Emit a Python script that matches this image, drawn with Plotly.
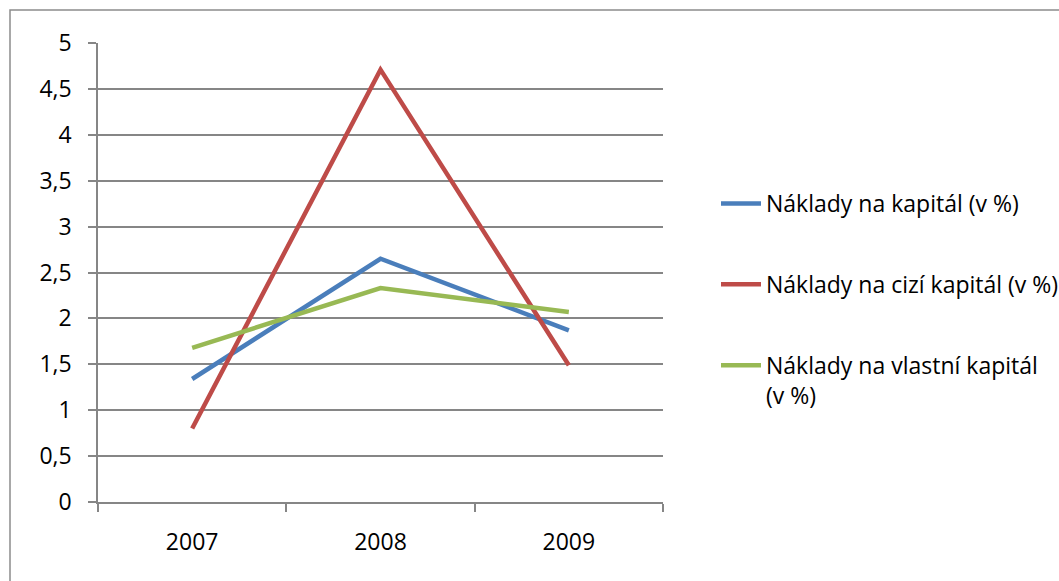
import plotly.graph_objects as go

years = ["2007", "2008", "2009"]
naklady_kapital = [1.34, 2.65, 1.87]
naklady_cizi = [0.80, 4.71, 1.49]
naklady_vlastni = [1.68, 2.33, 2.07]

series_names = [
    "Náklady na kapitál (v %)",
    "Náklady na cizí kapitál (v %)",
    "Náklady na vlastní kapitál<br>(v %)",
]
series_values = [naklady_kapital, naklady_cizi, naklady_vlastni]
series_colors = ["#4A7EBB", "#BE4B48", "#98B954"]

FONT = "Open Sans"
FS = 23
GRID = "#868686"

fig = go.Figure()
for i, (name, vals, col) in enumerate(zip(series_names, series_values, series_colors)):
    fig.add_trace(go.Scatter(
        x=years, y=vals, mode="lines", name=name,
        line=dict(color=col, width=4.5),
        legendgroup=f"g{i}",
    ))

W, H = 1059, 581
ml, mr, mt, mb = 98, 396, 43, 79

fig.update_layout(
    width=W, height=H,
    margin=dict(l=ml, r=mr, t=mt, b=mb, autoexpand=False),
    paper_bgcolor="white", plot_bgcolor="white",
    font=dict(family=FONT, size=FS, color="#000000"),
    showlegend=True,
    legend=dict(
        xref="container", yref="container",
        x=716 / W, y=1 - 182 / H, xanchor="left", yanchor="top",
        font=dict(family=FONT, size=FS),
        tracegroupgap=48, itemwidth=40, valign="top",
        bgcolor="rgba(0,0,0,0)",
    ),
    xaxis=dict(
        type="category", range=[-0.5, 2.5],
        tickson="boundaries", ticks="outside", ticklen=8, tickcolor=GRID, tickwidth=1.5,
        showline=True, linecolor=GRID, linewidth=1.5,
        showgrid=False, ticklabelstandoff=19,
        tickfont=dict(family=FONT, size=FS),
    ),
    yaxis=dict(
        range=[0, 5], dtick=0.5, tickformat=".1~f",
        ticks="outside", ticklen=8, tickcolor=GRID, tickwidth=1.5,
        showline=True, linecolor=GRID, linewidth=1.5,
        showgrid=True, gridcolor=GRID, gridwidth=1.5,
        zeroline=False, ticklabelstandoff=12,
        tickfont=dict(family=FONT, size=FS),
    ),
    separators=", ",
)

# Chart frame border, running off the right and bottom edges
pw = W - ml - mr
ph = H - mt - mb
fig.add_shape(
    type="rect", xref="paper", yref="paper",
    x0=(10 - ml) / pw, x1=(W + 20 - ml) / pw,
    y0=-(H + 20 - mt - ph) / ph, y1=(ph + mt - 10) / ph,
    line=dict(color="#8C8C8C", width=1.5), fillcolor="rgba(0,0,0,0)", layer="below",
)

fig.write_html("out.html")
